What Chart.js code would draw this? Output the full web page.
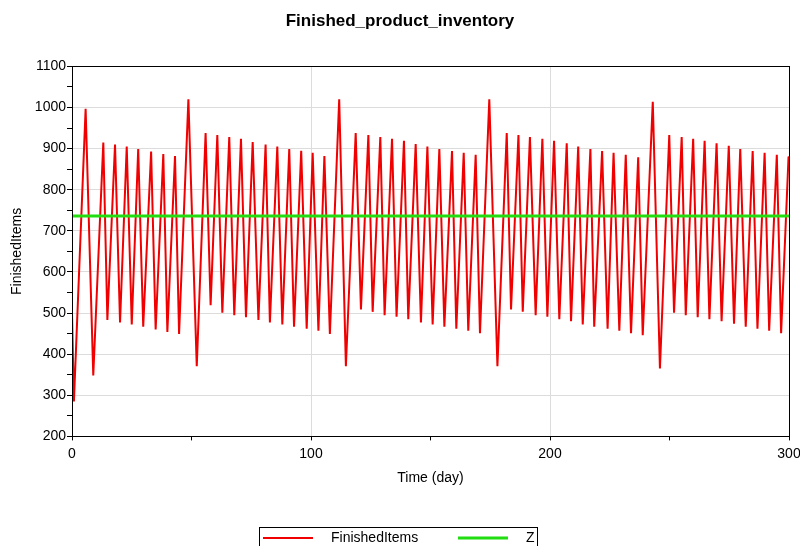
<!DOCTYPE html>
<html lang="en">
<head>
    <meta charset="UTF-8">
    <title>Finished_product_inventory</title>
    <script src="https://cdn.jsdelivr.net/npm/chart.js"></script>
    <style>
        body { margin: 0; background: #fff; }
        #wrap { width: 800px; height: 546px; }
    </style>
</head>
<body>
    <div id="wrap"><canvas id="chart" width="800" height="546"></canvas></div>
    <script>
        // turning points of the inventory curve
        const times = [0, 0.8, 5.7, 8.9, 13.1, 14.8, 18.0, 20.1, 22.9, 25.0, 27.7, 29.8, 33.1, 35.0, 38.2, 39.9,
            43.1, 44.8, 48.7, 52.2, 55.9, 58.0, 60.8, 62.9, 65.8, 67.9, 70.7, 72.8, 75.6, 78.0, 81.0, 82.8,
            85.9, 88.0, 90.9, 92.9, 95.9, 98.2, 100.7, 103.1, 105.6, 107.9, 111.8, 114.6, 118.7, 120.9,
            124.0, 125.8, 129.0, 130.8, 133.9, 135.8, 138.9, 140.7, 143.8, 146.0, 148.7, 150.9, 153.7, 155.8,
            159.0, 160.8, 163.9, 165.8, 168.9, 170.7, 174.6, 178.0, 181.9, 183.7, 186.8, 188.6, 191.6, 194.0,
            196.8, 198.9, 201.7, 203.9, 207.0, 208.8, 211.8, 213.7, 216.9, 218.5, 221.8, 224.1, 226.6, 229.0,
            231.7, 233.9, 236.9, 238.8, 243.0, 246.0, 249.9, 251.9, 255.1, 256.8, 259.9, 261.8, 264.7, 266.7,
            269.7, 271.8, 274.8, 277.0, 279.6, 281.9, 284.8, 286.8, 289.8, 291.7, 294.9, 296.7, 299.8, 300];
        const finishedItems = [501, 285, 997, 348, 915, 483, 910, 477, 905, 472, 899, 467, 893, 460, 887, 454,
            882, 449, 1020, 371, 938, 519, 933, 501, 928, 495, 924, 490, 916, 483, 910, 477,
            905, 472, 899, 467, 895, 462, 890, 457, 882, 449, 1020, 371, 938, 509,
            933, 503, 928, 495, 924, 491, 919, 485, 911, 477, 905, 472, 899, 467,
            894, 462, 890, 457, 885, 451, 1020, 371, 938, 509, 933, 503, 928, 495,
            924, 491, 919, 485, 913, 480, 905, 472, 899, 467, 894, 462, 890, 457,
            885, 451, 879, 446, 1014, 365, 933, 501, 928, 495, 924, 490, 919, 485,
            913, 480, 907, 474, 899, 467, 894, 462, 890, 457, 885, 451, 879, 880];
        const zTimes = [0, 300];
        const zValues = [736, 736];

        const xTicksMajor = [0, 100, 200, 300];
        const yTicksMajor = [200, 300, 400, 500, 600, 700, 800, 900, 1000, 1100];

        const FONT = "'Liberation Sans', Arial, sans-serif";
        const GRID = '#dcdcdc';

        const frame = {
            id: 'frame',
            afterDatasetsDraw(chart) {
                const a = chart.chartArea, ctx = chart.ctx;
                ctx.save();
                ctx.strokeStyle = '#000';
                ctx.lineWidth = 1;
                ctx.strokeRect(Math.round(a.left) + 0.5, Math.round(a.top) + 0.5,
                    Math.round(a.right - a.left), Math.round(a.bottom - a.top));
                ctx.restore();
            }
        };

        // legend box under the chart, partly cut by the canvas edge
        const boxLegend = {
            id: 'boxLegend',
            afterDraw(chart) {
                const ctx = chart.ctx;
                const ds = chart.data.datasets;
                ctx.save();
                ctx.strokeStyle = '#000';
                ctx.lineWidth = 1;
                ctx.strokeRect(259.5, 527.5, 278, 30);
                ctx.font = '14px ' + FONT;
                ctx.textBaseline = 'middle';
                ctx.fillStyle = '#000';
                const slots = [263, 458];
                ds.forEach((d, i) => {
                    const x = slots[i];
                    ctx.strokeStyle = d.borderColor;
                    ctx.lineWidth = d.borderWidth;
                    ctx.beginPath();
                    ctx.moveTo(x, 538);
                    ctx.lineTo(x + 50, 538);
                    ctx.stroke();
                    ctx.fillText(d.label, x + 68, 538);
                });
                ctx.restore();
            }
        };

        new Chart(document.getElementById('chart').getContext('2d'), {
            type: 'line',
            data: {
                datasets: [{
                    label: 'FinishedItems',
                    data: times.map((t, i) => ({ x: t, y: finishedItems[i] })),
                    borderColor: '#f00000',
                    borderWidth: 2,
                    pointRadius: 0,
                    tension: 0,
                    order: 1
                }, {
                    label: 'Z',
                    data: zTimes.map((t, i) => ({ x: t, y: zValues[i] })),
                    borderColor: '#22dd11',
                    borderWidth: 3,
                    pointRadius: 0,
                    order: 0
                }]
            },
            options: {
                responsive: false,
                animation: false,
                layout: { padding: { left: 0, right: 0, top: 0, bottom: 53 } },
                plugins: {
                    legend: { display: false },
                    tooltip: { enabled: false },
                    title: {
                        display: true,
                        text: 'Finished_product_inventory',
                        color: '#000',
                        font: { family: FONT, size: 17, weight: 'bold' },
                        padding: { top: 11, bottom: 35 }
                    }
                },
                scales: {
                    x: {
                        type: 'linear',
                        min: 0,
                        max: 300,
                        afterBuildTicks: s => { s.ticks = [0, 50, 100, 150, 200, 250, 300].map(v => ({ value: v })); },
                        afterFit: s => { s.paddingRight = 11; s.paddingLeft = 0; },
                        ticks: {
                            color: '#000',
                            font: { family: FONT, size: 14 },
                            padding: 5,
                            maxRotation: 0,
                            callback: v => xTicksMajor.includes(v) ? v : ''
                        },
                        grid: {
                            color: c => (c.tick && (c.tick.value === 100 || c.tick.value === 200)) ? GRID : 'rgba(0,0,0,0)',
                            tickColor: '#000',
                            tickLength: 4
                        },
                        border: { color: '#000' },
                        title: {
                            display: true,
                            text: 'Time (day)',
                            color: '#000',
                            font: { family: FONT, size: 14 },
                            padding: { top: 3, bottom: 6 }
                        }
                    },
                    y: {
                        min: 200,
                        max: 1100,
                        afterBuildTicks: s => {
                            const t = [];
                            for (let v = 200; v <= 1100; v += 50) t.push({ value: v });
                            s.ticks = t;
                        },
                        afterFit: s => { s.width = 72; },
                        ticks: {
                            color: '#000',
                            font: { family: FONT, size: 14 },
                            padding: 1,
                            callback: v => yTicksMajor.includes(v) ? v : ''
                        },
                        grid: {
                            color: c => (c.tick && c.tick.value % 100 === 0 && c.tick.value > 200 && c.tick.value < 1100) ? GRID : 'rgba(0,0,0,0)',
                            tickColor: '#000',
                            tickLength: 5
                        },
                        border: { color: '#000' },
                        title: {
                            display: true,
                            text: 'FinishedItems',
                            color: '#000',
                            font: { family: FONT, size: 14 },
                            padding: { top: 9, bottom: 0 }
                        }
                    }
                }
            },
            plugins: [frame, boxLegend]
        });
    </script>
</body>
</html>
